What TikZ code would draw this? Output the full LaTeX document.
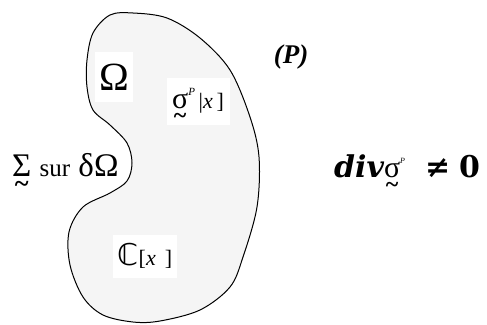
\documentclass[tikz,border=0pt]{standalone}
\usepackage{amsmath}
\usepackage{fontspec}
\setmainfont{Liberation Serif}
\newfontfamily\dvsans{DejaVu Sans}
\newfontfamily\dvserif{DejaVu Serif}
% letter with a small tilde below
\newcommand\utl[2][0.5em]{{\setbox0\hbox{#2}\rlap{\raisebox{-#1}[0pt][0pt]{\makebox[\wd0]{\scalebox{0.8}{\bfseries\char"7E}}}}\box0}}

\begin{document}
\begin{tikzpicture}[x=1pt,y=-1pt,
  wbox/.style={fill=white,inner sep=0pt},
  lbl/.style={inner sep=1pt}]
  \useasboundingbox (0,0) rectangle (487,324);
  % the body
  \draw[line width=1pt,fill=black!4] plot[smooth cycle,tension=0.55] coordinates {
    (133,13) (167,18) (200,38) (230,70) (250,117) (259,157) (257,207)
    (243,257) (230,287) (200,310) (160,321) (133,322) (103,315) (83,297)
    (70,265) (69,232) (83,207) (110,193) (127,181) (132,163) (127,143)
    (110,125) (93,110) (87,87) (87,60) (93,33) (110,15)};
  \node[wbox,minimum width=38pt,minimum height=50pt] (omega) at (114,77)
    {\fontsize{40}{40}\selectfont Ω};
  \node[wbox,minimum width=63pt,minimum height=47pt] (sigp) at (198,101)
    {\fontsize{30}{30}\selectfont\utl{σ}\raisebox{0.45em}{\fontsize{11}{11}\selectfont\itshape P}\fontsize{22}{22}\selectfont\,|\textit{x}\,]};
  \node[wbox,minimum width=64pt,minimum height=43pt] (cx) at (145,256)
    {{\dvsans\fontsize{30}{30}\selectfont ℂ}\fontsize{22}{22}\selectfont[\textit{x}\, ]};
  \node[lbl,anchor=west] (bord) at (11,165)
    {\fontsize{33}{33}\selectfont\utl{Σ} {\fontsize{25}{25}\selectfont sur} δΩ};
  \node[lbl] (plbl) at (291,57)
    {\fontsize{27}{27}\selectfont\bfseries\itshape (P)};
  \node[lbl,anchor=west] (divl) at (333,166)
    {\fontsize{30}{30}\selectfont{\dvserif\bfseries\itshape div}\utl{σ}\raisebox{0.45em}{\fontsize{8}{8}\selectfont\itshape P}\hspace{20pt}{\dvserif\bfseries ≠\hspace{9pt}0}};
\end{tikzpicture}
\end{document}
